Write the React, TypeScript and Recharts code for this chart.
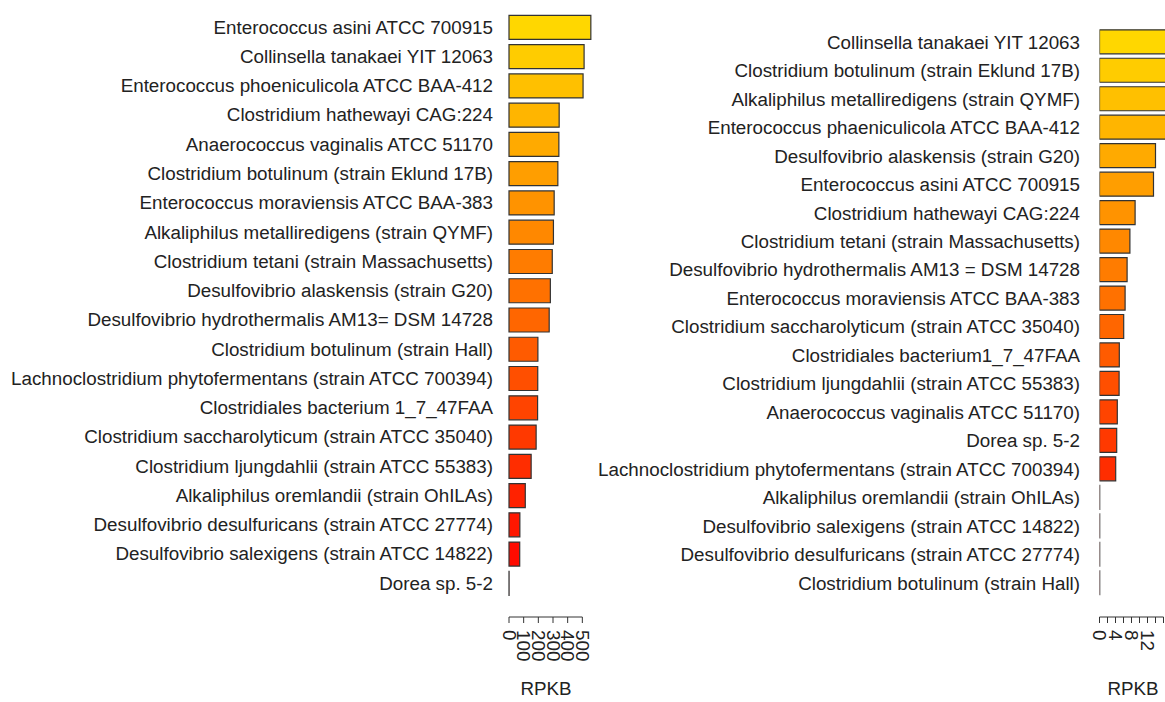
import { BarChart, Bar, XAxis, YAxis, Cell } from 'recharts';

// left panel, top to bottom
const leftNames = [
  'Enterococcus asini ATCC 700915',
  'Collinsella tanakaei YIT 12063',
  'Enterococcus phoeniculicola ATCC BAA-412',
  'Clostridium hathewayi CAG:224',
  'Anaerococcus vaginalis ATCC 51170',
  'Clostridium botulinum (strain Eklund 17B)',
  'Enterococcus moraviensis ATCC BAA-383',
  'Alkaliphilus metalliredigens (strain QYMF)',
  'Clostridium tetani (strain Massachusetts)',
  'Desulfovibrio alaskensis (strain G20)',
  'Desulfovibrio hydrothermalis AM13= DSM 14728',
  'Clostridium botulinum (strain Hall)',
  'Lachnoclostridium phytofermentans (strain ATCC 700394)',
  'Clostridiales bacterium 1_7_47FAA',
  'Clostridium saccharolyticum (strain ATCC 35040)',
  'Clostridium ljungdahlii (strain ATCC 55383)',
  'Alkaliphilus oremlandii (strain OhILAs)',
  'Desulfovibrio desulfuricans (strain ATCC 27774)',
  'Desulfovibrio salexigens (strain ATCC 14822)',
  'Dorea sp. 5-2',
];
const leftRpkb = [558, 512, 505, 342, 340, 333, 308, 303, 295, 282, 274, 197, 196, 195, 185, 151, 111, 74, 73, 0.5];

// right panel, top to bottom
const rightNames = [
  'Collinsella tanakaei YIT 12063',
  'Clostridium botulinum (strain Eklund 17B)',
  'Alkaliphilus metalliredigens (strain QYMF)',
  'Enterococcus phaeniculicola ATCC BAA-412',
  'Desulfovibrio alaskensis (strain G20)',
  'Enterococcus asini ATCC 700915',
  'Clostridium hathewayi CAG:224',
  'Clostridium tetani (strain Massachusetts)',
  'Desulfovibrio hydrothermalis AM13 = DSM 14728',
  'Enterococcus moraviensis ATCC BAA-383',
  'Clostridium saccharolyticum (strain ATCC 35040)',
  'Clostridiales bacterium1_7_47FAA',
  'Clostridium ljungdahlii (strain ATCC 55383)',
  'Anaerococcus vaginalis ATCC 51170)',
  'Dorea sp. 5-2',
  'Lachnoclostridium phytofermentans (strain ATCC 700394)',
  'Alkaliphilus oremlandii (strain OhILAs)',
  'Desulfovibrio salexigens (strain ATCC 14822)',
  'Desulfovibrio desulfuricans (strain ATCC 27774)',
  'Clostridium botulinum (strain Hall)',
];
const rightRpkb = [22, 21, 20, 19, 14.0, 13.5, 8.9, 7.6, 6.9, 6.4, 6.05, 4.95, 4.9, 4.45, 4.3, 4.05, 0.05, 0.05, 0.05, 0.05];

const leftTicks = [0, 100, 200, 300, 400, 500];
const leftTickLabels = [0, 100, 200, 300, 400, 500];
const rightTicks = [0, 2, 4, 6, 8, 10, 12, 14, 16];
const rightTickLabels = [0, 4, 8, 12];

const FONT = '"Liberation Sans", Arial, Helvetica, sans-serif';
const TEXT = '#222';
const FS = 18.8;
const AXIS_Y = 617;
const LABEL_Y = 630;

const leftData = leftNames.map((name, i) => ({ name, rpkb: leftRpkb[i] }));
const rightData = rightNames.map((name, i) => ({ name, rpkb: rightRpkb[i] }));

// gold -> red, like the original ramp
const barColor = (i: number, n: number) => {
  const g = Math.round(215 * (1 - i / (n - 1)));
  return `rgb(255,${g},0)`;
};

const AxisTick = (props: any) => {
  const { x, payload, plotLeft, lastValue, labels } = props;
  const v = payload.value;
  return (
    <g>
      <line x1={x} y1={AXIS_Y} x2={x} y2={AXIS_Y + 6} stroke="#333" strokeWidth={1} />
      {v === lastValue && <line x1={plotLeft} y1={AXIS_Y} x2={x} y2={AXIS_Y} stroke="#333" strokeWidth={1} />}
      {labels.includes(v) && (
        <text
          x={x}
          y={LABEL_Y}
          transform={`rotate(90 ${x} ${LABEL_Y})`}
          textAnchor="start"
          dominantBaseline="central"
          fontSize={FS}
          fontFamily={FONT}
          fill={TEXT}
        >
          {v}
        </text>
      )}
    </g>
  );
};

const Panel = ({ data, ticks, tickLabels, domain, yWidth, gap, width, top, axisH, labelDx, overflow }: any) => {
  const lastValue = ticks[ticks.length - 1];
  return (
    <BarChart
      width={width}
      height={702}
      data={data}
      layout="vertical"
      margin={{ top, right: 0, bottom: 0, left: 0 }}
    >
      <XAxis
        type="number"
        domain={domain}
        ticks={ticks}
        interval={0}
        allowDataOverflow={overflow}
        axisLine={false}
        tickLine={false}
        height={axisH}
        tick={(p: any) => (
          <AxisTick {...p} plotLeft={yWidth} lastValue={lastValue} labels={tickLabels} />
        )}
        label={{
          value: 'RPKB',
          position: 'insideBottom',
          offset: 7,
          dx: labelDx,
          fill: TEXT,
          fontSize: FS,
          fontFamily: FONT,
        }}
      />
      <YAxis
        type="category"
        dataKey="name"
        width={yWidth}
        interval={0}
        axisLine={false}
        tickLine={false}
        tickSize={0}
        tickMargin={gap}
        tick={{ fill: TEXT, fontSize: FS, fontFamily: FONT }}
      />
      <Bar dataKey="rpkb" barSize={24} stroke="#333" strokeWidth={1.2} isAnimationActive={false}>
        {data.map((_: any, i: number) => (
          <Cell key={i} fill={barColor(i, data.length)} />
        ))}
      </Bar>
    </BarChart>
  );
};

export default function App() {
  return (
    <div
      style={{
        position: 'absolute',
        left: 0,
        top: 0,
        width: 1165,
        height: 702,
        overflow: 'hidden',
        background: '#fff',
      }}
    >
      <div style={{ position: 'absolute', left: 0, top: 0 }}>
        <Panel
          data={leftData}
          ticks={leftTicks}
          tickLabels={leftTickLabels}
          domain={[0, 600]}
          yWidth={509}
          gap={16}
          width={597}
          top={12.4}
          axisH={104.4}
          labelDx={-7}
          overflow={false}
        />
      </div>
      <div style={{ position: 'absolute', left: 590, top: 0 }}>
        <Panel
          data={rightData}
          ticks={rightTicks}
          tickLabels={rightTickLabels}
          domain={[0, 16.75]}
          yWidth={509.5}
          gap={19.5}
          width={576.5}
          top={27.8}
          axisH={104.8}
          labelDx={0}
          overflow={true}
        />
      </div>
    </div>
  );
}
